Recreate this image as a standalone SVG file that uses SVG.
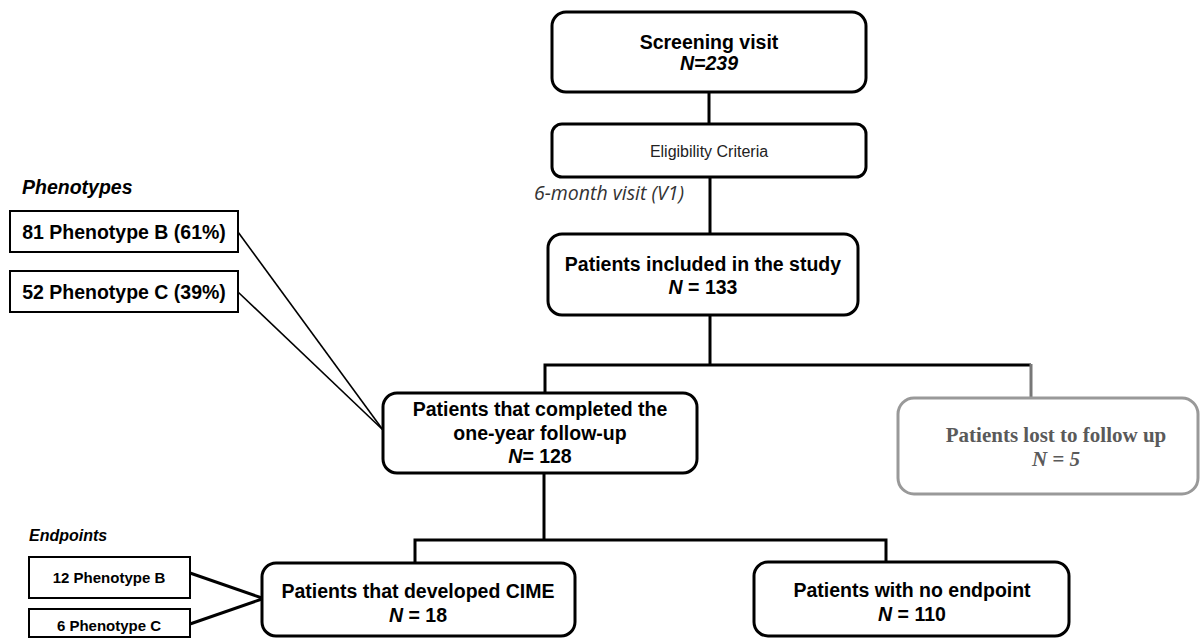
<svg xmlns="http://www.w3.org/2000/svg" width="1201" height="638" viewBox="0 0 1201 638">
<style>
.box{fill:#fff;stroke:#000;stroke-width:3}
.sq{fill:#fff;stroke:#000;stroke-width:2}
.t{font-family:"Liberation Sans",Arial,sans-serif;font-weight:bold;font-size:19.5px;fill:#000;text-anchor:middle}
.s{font-family:"Liberation Sans",Arial,sans-serif;font-weight:bold;font-size:15px;fill:#000;text-anchor:middle}
.i{font-style:italic}
.c{fill:none;stroke:#000;stroke-width:3}
.thin{fill:none;stroke:#000;stroke-width:1.6}
.serif{font-family:"Liberation Serif","Times New Roman",serif;font-weight:bold;font-size:21px;fill:#5a5a5a;text-anchor:middle}
</style>
<g id="connectors">
<line class="c" x1="709" y1="92" x2="709" y2="124"/>
<line class="c" x1="710" y1="177" x2="710" y2="234"/>
<polyline class="c" points="710,315 710,365"/>
<polyline class="c" points="545,393 545,365 1031,365"/>
<line x1="1031" y1="364" x2="1031" y2="398" stroke="#777" stroke-width="3"/>
<line class="c" x1="544" y1="473" x2="544" y2="540"/>
<polyline class="c" points="415,563 415,540 886,540 886,562"/>
<line class="thin" x1="238" y1="232" x2="383" y2="430"/>
<line class="thin" x1="238" y1="292" x2="383" y2="430"/>
<line class="c" stroke-width="2.2" x1="190" y1="573" x2="262" y2="598"/>
<line class="c" stroke-width="2.2" x1="190" y1="624" x2="262" y2="599"/>
</g>
<g id="screening">
<rect class="box" x="552" y="12" width="314" height="80" rx="14"/>
<text class="t" x="709" y="49" font-size="20">Screening visit</text>
<text class="t i" x="709" y="70" font-size="15">N=239</text>
</g>
<g id="eligibility">
<rect class="box" x="552" y="124" width="314" height="53" rx="10" stroke-width="2.5"/>
<text x="709" y="157" font-family="Liberation Sans,Arial,sans-serif" font-size="16" fill="#222" text-anchor="middle">Eligibility Criteria</text>
</g>
<g id="visit-label">
<text x="534" y="200" font-family="Open Sans,sans-serif" font-style="italic" font-size="19.5" fill="#333">6-month visit (V1)</text>
</g>
<g id="included">
<rect class="box" x="548" y="234" width="310" height="81" rx="14"/>
<text class="t" x="703" y="271">Patients included in the study</text>
<text class="t" x="703" y="294"><tspan class="i">N</tspan> = 133</text>
</g>
<g id="phenotypes">
<text x="22" y="194" font-family="Liberation Sans,Arial,sans-serif" font-weight="bold" font-style="italic" font-size="19.5">Phenotypes</text>
<rect class="sq" x="10" y="211" width="228" height="41"/>
<text class="t" x="124" y="239">81 Phenotype B (61%)</text>
<rect class="sq" x="10" y="271" width="228" height="41"/>
<text class="t" x="124" y="299">52 Phenotype C (39%)</text>
</g>
<g id="completed">
<rect class="box" x="383" y="393" width="314" height="80" rx="14"/>
<text class="t" x="540" y="416">Patients that completed the</text>
<text class="t" x="540" y="440">one-year follow-up</text>
<text class="t" x="540" y="463"><tspan class="i">N</tspan>= 128</text>
</g>
<g id="lost">
<rect x="898" y="398" width="300" height="96" rx="16" fill="#fff" stroke="#999" stroke-width="3"/>
<text class="serif" x="1056" y="442">Patients lost to follow up</text>
<text class="serif" x="1056" y="466" font-weight="normal" font-style="italic">N = 5</text>
</g>
<g id="endpoints">
<text x="29" y="541" font-family="Liberation Sans,Arial,sans-serif" font-weight="bold" font-style="italic" font-size="16">Endpoints</text>
<rect class="sq" x="29" y="557" width="161" height="41"/>
<text class="s" x="109" y="583">12 Phenotype B</text>
<rect class="sq" x="29" y="609" width="161" height="28"/>
<text class="s" x="109" y="631">6 Phenotype C</text>
</g>
<g id="cime">
<rect class="box" x="262" y="563" width="313" height="73" rx="14"/>
<text class="t" x="418" y="598">Patients that developed CIME</text>
<text class="t" x="418" y="622"><tspan class="i">N</tspan> = 18</text>
</g>
<g id="no-endpoint">
<rect class="box" x="754" y="562" width="315" height="74" rx="14"/>
<text class="t" x="912" y="597">Patients with no endpoint</text>
<text class="t" x="912" y="621"><tspan class="i">N</tspan> = 110</text>
</g>
</svg>
